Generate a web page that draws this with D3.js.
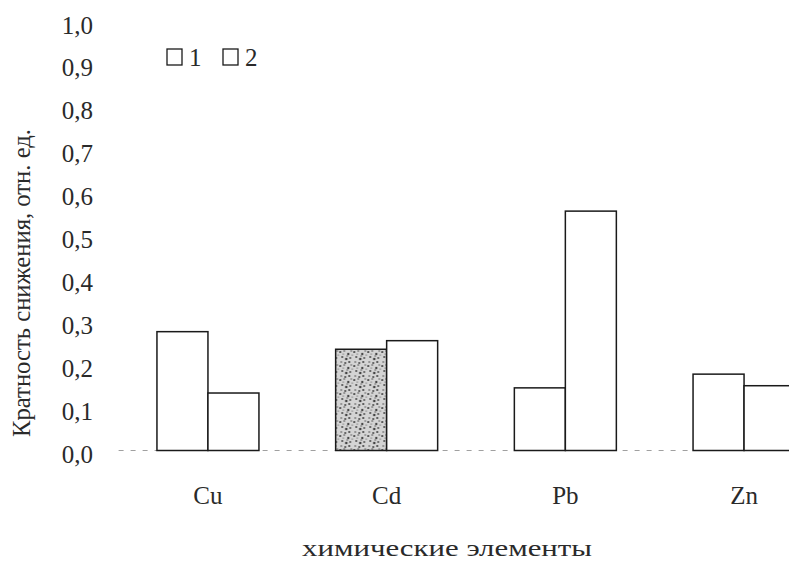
<!DOCTYPE html>
<html>
<head>
<meta charset="utf-8">
<script src="https://cdn.jsdelivr.net/npm/d3@7"></script>
<style>
  html, body { margin: 0; padding: 0; background: #fff; }
  svg { display: block; }
</style>
</head>
<body>
<div id="chart"></div>
<script>
// ---- data ----
const categories = ["Cu", "Cd", "Pb", "Zn"];
const seriesNames = ["1", "2"];
const series1 = [0.277, 0.236, 0.146, 0.178];
const series2 = [0.134, 0.256, 0.558, 0.151];
const yTicks = [0, 0.1, 0.2, 0.3, 0.4, 0.5, 0.6, 0.7, 0.8, 0.9, 1.0];
const yTickLabels = ["0,0", "0,1", "0,2", "0,3", "0,4", "0,5", "0,6", "0,7", "0,8", "0,9", "1,0"];
const yTitle = "Кратность снижения, отн. ед.";
const xTitle = "химические элементы";

const rows = categories.map((c, i) => ({ cat: c, values: [series1[i], series2[i]] }));

const FONT = '"Liberation Serif"';
const TXT = "#2a2a2a";
const W = 789, H = 567;
const svg = d3.select("#chart").append("svg").attr("width", W).attr("height", H);
svg.append("rect").attr("width", W).attr("height", H).attr("fill", "#fff");

// speckle pattern for the textured bar
const defs = svg.append("defs");
const pat = defs.append("pattern").attr("id", "speckle").attr("patternUnits", "userSpaceOnUse")
  .attr("width", 14).attr("height", 14);
pat.append("rect").attr("width", 14).attr("height", 14).attr("fill", "#d4d4d4");
const dots = [[1,2,1.1],[5,1,0.8],[9,4,1.2],[12,1,0.7],[3,7,1.0],[7,9,1.3],[11,8,0.9],[2,12,0.8],[6,13,1.0],[10,12,1.1],[13,5,0.6],[4,4,0.6],[8,6,0.7]];
dots.forEach(d => pat.append("circle").attr("cx", d[0]).attr("cy", d[1]).attr("r", d[2]).attr("fill", "#444"));

const x0 = d3.scaleBand().domain(categories).range([118.6, 833.4]).paddingInner(0).paddingOuter(0);
const x1 = d3.scaleBand().domain(seriesNames).range([0, x0.bandwidth()]).paddingInner(0).paddingOuter(0.752);
const y = d3.scaleLinear().domain([0, 1]).range([450.5, 21.5]);

// baseline (faint dashed)
svg.append("line")
  .attr("x1", x0.range()[0]).attr("x2", W)
  .attr("y1", y(0)).attr("y2", y(0))
  .attr("stroke", "#a0a0a0").attr("stroke-width", 1).attr("stroke-dasharray", "5,7");

// y tick labels
const yAxis = d3.axisLeft(y).tickValues(yTicks).tickSize(0).tickPadding(0)
  .tickFormat((d, i) => yTickLabels[i]);
const gy = svg.append("g").attr("transform", "translate(93,3.5)").call(yAxis);
gy.select(".domain").remove();
gy.selectAll("text").style("font-family", FONT).style("font-size", "25px").style("fill", TXT);

// bars
const groups = svg.append("g").selectAll("g").data(rows).join("g")
  .attr("transform", d => `translate(${x0(d.cat)},0)`);
groups.selectAll("rect").data(d => d.values.map((v, i) => ({ cat: d.cat, s: seriesNames[i], v })))
  .join("rect")
  .attr("x", d => x1(d.s))
  .attr("y", d => y(d.v))
  .attr("width", x1.bandwidth())
  .attr("height", d => y(0) - y(d.v))
  .attr("fill", d => (d.cat === "Cd" && d.s === "1") ? "url(#speckle)" : "#fff")
  .attr("stroke", "#1a1a1a").attr("stroke-width", 1.5);

// category labels
const xAxis = d3.axisBottom(x0).tickSize(0).tickPadding(0);
const gx = svg.append("g").attr("transform", "translate(0,486)").call(xAxis);
gx.select(".domain").remove();
gx.selectAll("text").style("font-family", FONT).style("font-size", "25px").style("fill", TXT);

// legend
const legend = svg.append("g");
const legX = [167, 223];
seriesNames.forEach((s, i) => {
  legend.append("rect").attr("x", legX[i]).attr("y", 49).attr("width", 15).attr("height", 16)
    .attr("fill", "#fff").attr("stroke", "#1a1a1a").attr("stroke-width", 1.3);
  legend.append("text").attr("x", legX[i] + 22).attr("y", 66)
    .style("font-family", FONT).style("font-size", "25px").style("fill", TXT).text(s);
});

// axis titles
svg.append("text")
  .attr("transform", "translate(30,283) rotate(-90)")
  .attr("text-anchor", "middle")
  .attr("textLength", 308).attr("lengthAdjust", "spacingAndGlyphs")
  .style("font-family", FONT).style("font-size", "25px").style("fill", TXT)
  .text(yTitle);

svg.append("text")
  .attr("x", 447).attr("y", 556)
  .attr("text-anchor", "middle")
  .attr("textLength", 290).attr("lengthAdjust", "spacingAndGlyphs")
  .style("font-family", FONT).style("font-size", "24px").style("fill", TXT)
  .text(xTitle);
</script>
</body>
</html>
